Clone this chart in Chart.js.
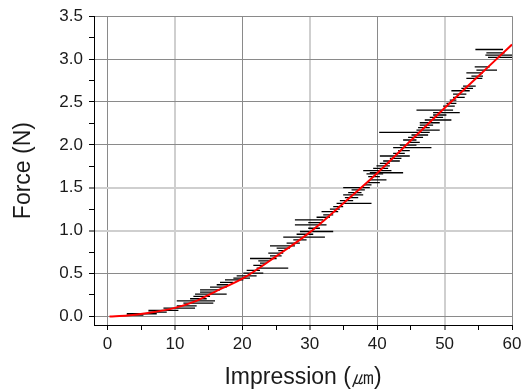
<!DOCTYPE html>
<html>
<head>
<meta charset="utf-8">
<script src="https://cdn.jsdelivr.net/npm/chart.js@4.4.0/dist/chart.umd.min.js"></script>
<style>
  html, body { margin: 0; padding: 0; background: #fff; }
  #wrap { width: 528px; height: 391px; }
</style>
</head>
<body>
<div id="wrap"><canvas id="chart" width="528" height="391"></canvas></div>
<script>
// measured points: force (N) with the impression range (um) of each bar
const force = [
  0.016, 0.031, 0.050, 0.070, 0.097, 0.124, 0.155, 0.182, 0.206, 0.233,
  0.260, 0.283, 0.310, 0.341, 0.369, 0.396, 0.427, 0.446, 0.473, 0.504,
  0.536, 0.563, 0.594, 0.621, 0.648, 0.675, 0.706, 0.737, 0.768, 0.796,
  0.823, 0.854, 0.893, 0.924, 0.958, 0.990, 1.028, 1.067, 1.094, 1.125,
  1.156, 1.184, 1.222, 1.250, 1.281, 1.319, 1.350, 1.385, 1.416, 1.444,
  1.475, 1.502, 1.533, 1.560, 1.591, 1.630, 1.661, 1.675, 1.700, 1.727,
  1.754, 1.785, 1.812, 1.843, 1.870, 1.901, 1.932, 1.967, 1.998, 2.030,
  2.057, 2.088, 2.115, 2.146, 2.173, 2.200, 2.231, 2.258, 2.290, 2.321,
  2.348, 2.375, 2.406, 2.452, 2.484, 2.522, 2.553, 2.592, 2.631, 2.658,
  2.685, 2.775, 2.802, 2.840, 2.872, 2.910, 3.019, 3.046, 3.073, 3.112
];
const impressionLow = [
  2.86, 2.86, 6.07, 6.07, 8.30, 10.27, 11.26, 10.27, 12.25, 12.74,
  12.99, 13.73, 13.73, 15.21, 16.20, 16.69, 17.43, 18.67, 19.16, 20.15,
  20.64, 22.12, 21.63, 22.62, 22.37, 21.14, 24.10, 23.85, 25.33, 25.09,
  24.10, 26.57, 27.56, 26.07, 28.05, 28.54, 29.78, 27.80, 29.78, 27.80,
  31.01, 32.00, 31.75, 32.99, 33.48, 33.98, 34.47, 35.21, 34.96, 35.70,
  36.20, 34.96, 38.17, 38.42, 38.91, 38.67, 38.42, 38.91, 37.93, 39.41,
  39.90, 40.40, 40.89, 41.88, 40.40, 42.37, 43.11, 42.37, 43.36, 44.59,
  43.85, 44.59, 45.09, 40.30, 45.83, 46.07, 46.32, 46.32, 47.06, 47.80,
  48.30, 48.30, 45.83, 49.78, 50.27, 50.77, 51.26, 51.26, 51.01, 52.49,
  52.74, 53.23, 53.98, 53.23, 54.72, 54.47, 56.44, 56.05, 56.20, 54.57
];
const impressionHigh = [
  5.33, 7.31, 8.79, 10.52, 12.99, 13.23, 15.70, 15.95, 14.72, 15.21,
  17.68, 15.95, 16.69, 17.68, 17.93, 18.67, 20.15, 21.14, 22.12, 23.11,
  22.62, 26.81, 23.11, 23.60, 24.10, 25.09, 25.83, 26.07, 26.32, 27.06,
  27.80, 28.54, 29.53, 32.25, 30.52, 33.48, 31.51, 32.49, 31.75, 32.00,
  32.99, 33.48, 34.22, 34.47, 34.96, 39.16, 36.44, 37.19, 37.93, 37.68,
  38.17, 38.91, 39.16, 40.40, 41.38, 40.40, 40.89, 43.85, 42.12, 41.63,
  41.88, 41.88, 43.36, 43.60, 44.84, 44.10, 44.84, 48.05, 45.83, 46.32,
  45.83, 46.81, 47.56, 47.80, 49.28, 47.80, 48.30, 49.28, 51.01, 49.78,
  50.27, 52.25, 51.26, 51.51, 51.75, 51.75, 52.99, 53.23, 53.73, 54.22,
  54.62, 55.60, 55.70, 55.70, 57.78, 56.69, 60.00, 60.00, 58.91, 58.67
];

// red fitted curve
const fitX = [0.3, 3, 6, 10, 13, 16, 20, 25, 30, 35, 40, 45, 50, 55, 60];
const fitY = [0, 0.01, 0.04, 0.10, 0.175, 0.29, 0.44, 0.70, 0.98, 1.32, 1.67, 2.05, 2.43, 2.80, 3.17];

const xTicks = [0, 5, 10, 15, 20, 25, 30, 35, 40, 45, 50, 55, 60];
const yTicks = [0, 0.25, 0.5, 0.75, 1, 1.25, 1.5, 1.75, 2, 2.25, 2.5, 2.75, 3, 3.25, 3.5];

const points = force.map((f, i) => ({
  x: (impressionLow[i] + impressionHigh[i]) / 2,
  y: f,
  xMin: impressionLow[i],
  xMax: impressionHigh[i]
}));
const fitLine = fitX.map((x, i) => ({ x: x, y: fitY[i] }));

// horizontal error bars
const errorBars = {
  id: 'errorBars',
  beforeDatasetsDraw(chart) {
    const { ctx, chartArea, scales } = chart;
    const meta = chart.getDatasetMeta(0);
    if (meta.hidden) return;
    ctx.save();
    ctx.beginPath();
    ctx.rect(chartArea.left, chartArea.top, chartArea.right - chartArea.left, chartArea.bottom - chartArea.top);
    ctx.clip();
    ctx.strokeStyle = '#000';
    ctx.lineWidth = 1.3;
    chart.data.datasets[0].data.forEach(p => {
      const y = scales.y.getPixelForValue(p.y);
      ctx.beginPath();
      ctx.moveTo(scales.x.getPixelForValue(p.xMin), y);
      ctx.lineTo(scales.x.getPixelForValue(p.xMax), y);
      ctx.stroke();
    });
    ctx.restore();
  }
};

const font = "'Liberation Sans', Arial, sans-serif";
const darkGrid = '#8a8a8a';
const lightGrid = '#cfcfcf';

new Chart(document.getElementById('chart'), {
  type: 'scatter',
  data: {
    datasets: [
      {
        label: 'Measured',
        data: points,
        pointRadius: 0,
        pointHoverRadius: 0,
        borderColor: '#000',
        backgroundColor: '#000'
      },
      {
        label: 'Fit',
        type: 'line',
        data: fitLine,
        borderColor: '#ff0000',
        borderWidth: 2,
        pointRadius: 0,
        fill: false,
        cubicInterpolationMode: 'monotone',
        showLine: true
      }
    ]
  },
  options: {
    responsive: false,
    animation: false,
    layout: { padding: { left: 0, right: 16, top: 16, bottom: 0 } },
    plugins: {
      legend: { display: false },
      tooltip: { enabled: false }
    },
    scales: {
      x: {
        type: 'linear',
        min: -2,
        max: 60,
        afterBuildTicks: scale => { scale.ticks = xTicks.map(v => ({ value: v })); },
        afterFit: scale => { scale.height = 66; },
        border: { display: true, color: '#000', width: 1 },
        grid: {
          color: c => {
            const v = c.tick ? c.tick.value : 0;
            if (v % 10 !== 0) return 'rgba(0,0,0,0)';
            return (v / 10) % 2 === 1 ? lightGrid : darkGrid;
          },
          lineWidth: c => (c.tick && c.tick.value % 10 === 0 && (c.tick.value / 10) % 2 === 1) ? 2 : 1,
          tickColor: '#000',
          tickLength: 5,
          tickWidth: 1
        },
        ticks: {
          color: '#1a1a1a',
          font: { family: font, size: 17 },
          padding: 4,
          maxRotation: 0,
          autoSkip: false,
          callback: v => (v % 10 === 0 ? String(v) : '')
        },
        title: {
          display: true,
          text: 'Impression (㎛)',
          color: '#1a1a1a',
          font: { family: font, size: 23 },
          padding: { top: 0, bottom: 0 }
        }
      },
      y: {
        type: 'linear',
        min: -0.1,
        max: 3.5,
        afterBuildTicks: scale => { scale.ticks = yTicks.map(v => ({ value: v })); },
        afterFit: scale => { scale.width = 94; },
        border: { display: true, color: '#000', width: 1 },
        grid: {
          color: c => {
            const v = c.tick ? c.tick.value : 0;
            if (Math.round(v * 4) % 2 !== 0) return 'rgba(0,0,0,0)';
            return (v === 1 || v === 1.5) ? lightGrid : darkGrid;
          },
          lineWidth: c => (c.tick && (c.tick.value === 1 || c.tick.value === 1.5)) ? 2 : 1,
          tickColor: '#000',
          tickLength: 5,
          tickWidth: 1
        },
        ticks: {
          color: '#1a1a1a',
          font: { family: font, size: 17 },
          padding: 6,
          autoSkip: false,
          callback: v => (Math.round(v * 4) % 2 === 0 ? v.toFixed(1) : '')
        },
        title: {
          display: true,
          text: 'Force (N)',
          color: '#1a1a1a',
          font: { family: font, size: 23 },
          padding: { top: 10, bottom: 0 }
        }
      }
    }
  },
  plugins: [errorBars]
});
</script>
</body>
</html>
